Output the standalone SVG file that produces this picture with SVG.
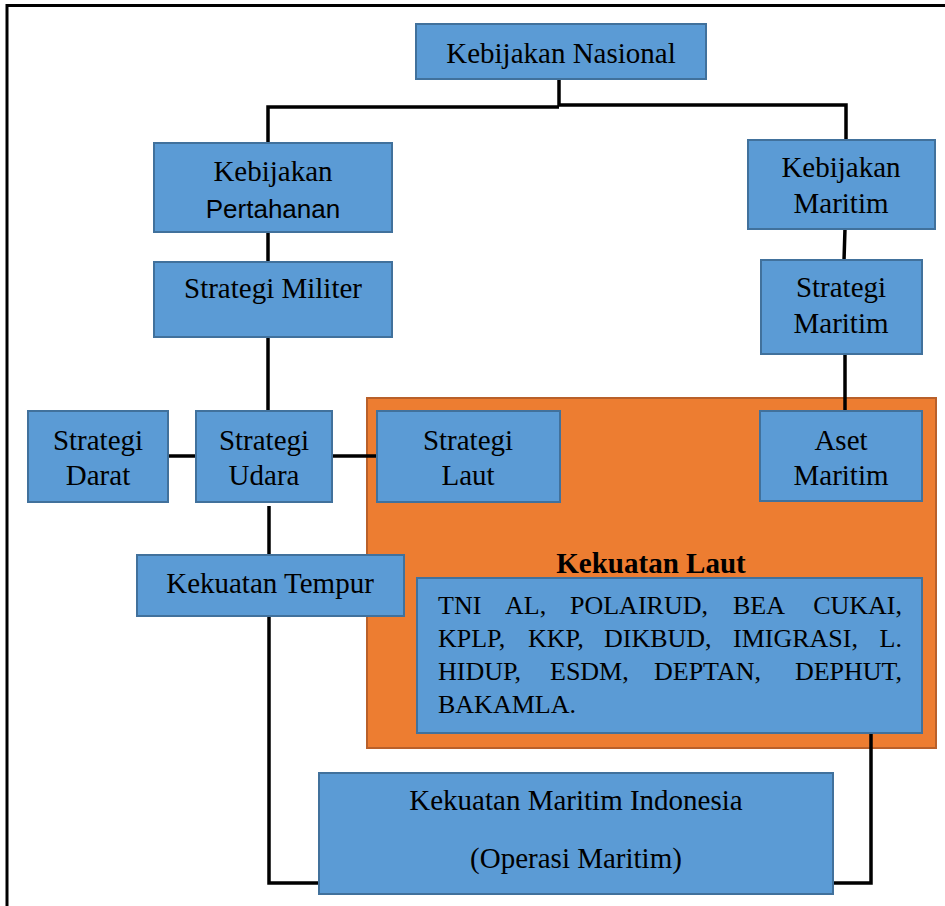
<svg xmlns="http://www.w3.org/2000/svg" width="945" height="906" viewBox="0 0 945 906">
<style>
.box{fill:#5B9BD5;stroke:#41719C;stroke-width:2}
.org{fill:#ED7D31;stroke:#B9602A;stroke-width:2}
.t{font-family:"Liberation Serif","Times New Roman",serif;font-size:29px;fill:#000;text-anchor:middle}
.s{font-family:"Liberation Sans",Arial,sans-serif;font-size:26px;fill:#000;text-anchor:middle}
.b{font-family:"Liberation Serif","Times New Roman",serif;font-size:29px;font-weight:bold;fill:#000;text-anchor:middle}
.w{font-family:"Liberation Serif","Times New Roman",serif;font-size:26px;fill:#000}
.c{fill:none;stroke:#000;stroke-width:3.5}
</style>
<rect x="0" y="0" width="945" height="906" fill="#fff"/>
<rect x="7" y="5.5" width="1000" height="1000" fill="none" stroke="#000" stroke-width="3"/>
<g id="kekuatan-laut-group">
<rect class="org" x="367" y="398" width="569" height="350"/>
<text class="b" x="651" y="573">Kekuatan Laut</text>
</g>
<g id="connectors">
<path class="c" d="M559 80 V106"/>
<path class="c" d="M268 145 V107 H559"/>
<path class="c" d="M559 105 H846 V142"/>
<path class="c" d="M268 232 V263"/>
<path class="c" d="M845 229 L844 261"/>
<path class="c" d="M268 337 V411"/>
<path class="c" d="M845 354 V411"/>
<path class="c" d="M168 456 H196"/>
<path class="c" d="M333 456 H376"/>
<path class="c" d="M269 506 V555"/>
<path class="c" d="M269 616 V883 H319"/>
<path class="c" d="M871 733 V883 H833"/>
</g>
<g id="kebijakan-nasional">
<rect class="box" x="416" y="24" width="290" height="55"/>
<text class="t" x="561" y="63">Kebijakan Nasional</text>
</g>
<g id="kebijakan-pertahanan">
<rect class="box" x="154" y="143" width="238" height="89"/>
<text class="t" x="273" y="181">Kebijakan</text>
<text class="s" x="273" y="218">Pertahanan</text>
</g>
<g id="kebijakan-maritim">
<rect class="box" x="748" y="140" width="187" height="89"/>
<text class="t" x="841" y="177">Kebijakan</text>
<text class="t" x="841" y="213">Maritim</text>
</g>
<g id="strategi-militer">
<rect class="box" x="154" y="262" width="238" height="75"/>
<text class="t" x="273" y="298">Strategi Militer</text>
</g>
<g id="strategi-maritim">
<rect class="box" x="761" y="260" width="161" height="94"/>
<text class="t" x="841" y="297">Strategi</text>
<text class="t" x="841" y="333">Maritim</text>
</g>
<g id="strategi-darat">
<rect class="box" x="28" y="411" width="140" height="91"/>
<text class="t" x="98" y="450">Strategi</text>
<text class="t" x="98" y="485">Darat</text>
</g>
<g id="strategi-udara">
<rect class="box" x="196" y="411" width="136" height="91"/>
<text class="t" x="264" y="450">Strategi</text>
<text class="t" x="264" y="485">Udara</text>
</g>
<g id="strategi-laut">
<rect class="box" x="377" y="411" width="183" height="91"/>
<text class="t" x="468" y="450">Strategi</text>
<text class="t" x="468" y="485">Laut</text>
</g>
<g id="aset-maritim">
<rect class="box" x="760" y="411" width="162" height="90"/>
<text class="t" x="841" y="450">Aset</text>
<text class="t" x="841" y="485">Maritim</text>
</g>
<g id="kekuatan-tempur">
<rect class="box" x="137" y="555" width="267" height="61"/>
<text class="t" x="270" y="593">Kekuatan Tempur</text>
</g>
<g id="instansi">
<rect class="box" x="417" y="578" width="505" height="155"/>
<text class="w" x="438" y="614">TNI</text>
<text class="w" x="505" y="614">AL,</text>
<text class="w" x="570" y="614">POLAIRUD,</text>
<text class="w" x="733" y="614">BEA</text>
<text class="w" x="902" y="614" text-anchor="end">CUKAI,</text>
<text class="w" x="438" y="647">KPLP,</text>
<text class="w" x="528" y="647">KKP,</text>
<text class="w" x="604" y="647">DIKBUD,</text>
<text class="w" x="733" y="647">IMIGRASI,</text>
<text class="w" x="902" y="647" text-anchor="end">L.</text>
<text class="w" x="438" y="680">HIDUP,</text>
<text class="w" x="550" y="680">ESDM,</text>
<text class="w" x="654" y="680">DEPTAN,</text>
<text class="w" x="902" y="680" text-anchor="end">DEPHUT,</text>
<text class="w" x="438" y="713">BAKAMLA.</text>
</g>
<g id="kekuatan-maritim-indonesia">
<rect class="box" x="319" y="773" width="514" height="121"/>
<text class="t" x="576" y="810">Kekuatan Maritim Indonesia</text>
<text class="t" x="576" y="868">(Operasi Maritim)</text>
</g>
</svg>
